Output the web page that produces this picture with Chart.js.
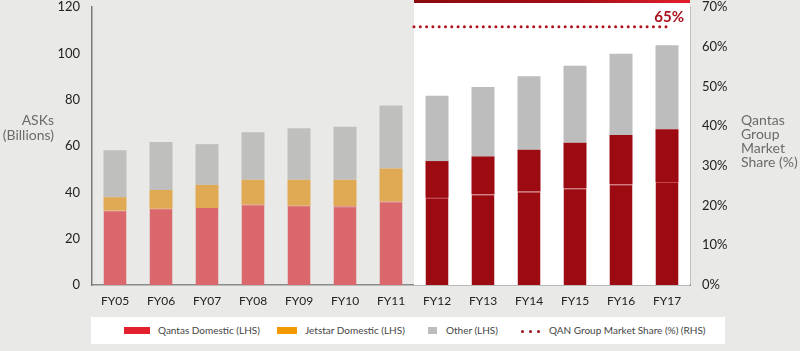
<!DOCTYPE html>
<html>
<head>
<meta charset="utf-8">
<script src="https://cdn.jsdelivr.net/npm/chart.js@4"></script>
<style>
  html, body { margin: 0; padding: 0; background: #e9e9e7; }
  #wrap { position: relative; width: 800px; height: 351px; font-family: 'Lato', sans-serif; }
  #wrap canvas { position: absolute; left: 0; top: 0; }
  .ytitle { position: absolute; font-size: 14px; line-height: 14.5px; color: #6b6b6b; }
  #ytitleL { right: 746px; top: 113px; text-align: right; }
  #ytitleR { left: 741px; top: 113px; text-align: left; line-height: 14px; }
  #legend { position: absolute; left: 91px; top: 317px; width: 634px; height: 27px; background: #fff; }
  .sw { position: absolute; top: 10px; height: 7px; }
  .lt { position: absolute; top: 7px; font-size: 10px; line-height: 13px; color: #444; white-space: nowrap; }
  .dot { position: absolute; top: 13px; width: 3px; height: 3px; border-radius: 50%; background: #a50f18; }
</style>
</head>
<body>
<div id="wrap">
  <canvas id="chart" width="800" height="351"></canvas>
  <div class="ytitle" id="ytitleL">ASKs<br>(Billions)</div>
  <div class="ytitle" id="ytitleR">Qantas<br>Group<br>Market<br>Share (%)</div>
  <div id="legend">
    <div class="sw" style="left:33px;width:26px;background:#e3202d"></div>
    <div class="lt" style="left:67px">Qantas Domestic (LHS)</div>
    <div class="sw" style="left:186px;width:20px;background:#f39a00"></div>
    <div class="lt" style="left:214px">Jetstar Domestic (LHS)</div>
    <div class="sw" style="left:337px;width:9px;background:#bdbdbd"></div>
    <div class="lt" style="left:355px">Other (LHS)</div>
    <div class="dot" style="left:430px"></div>
    <div class="dot" style="left:438px"></div>
    <div class="dot" style="left:446px"></div>
    <div class="lt" style="left:458px">QAN Group Market Share (%) (RHS)</div>
  </div>
</div>
<script>
/* ---- Daten ---- */
const LABELS  = ['FY05', 'FY06', 'FY07', 'FY08', 'FY09', 'FY10', 'FY11', 'FY12', 'FY13', 'FY14', 'FY15', 'FY16', 'FY17'];
const QANTAS  = [32.1, 32.9, 33.2, 34.7, 34.2, 34.0, 36.0, 37.6, 39.2, 40.4, 41.8, 43.5, 44.5];
const JETSTAR = [5.8, 8.1, 10.0, 10.7, 11.2, 11.4, 14.3, 15.9, 16.3, 18.0, 19.6, 21.2, 22.7];
const OTHER   = [20.3, 20.7, 17.6, 20.5, 22.3, 22.9, 27.2, 28.2, 30.0, 31.7, 33.2, 35.1, 36.3];
const SHARE   = [null, null, null, null, null, null, null, 65, 65, 65, 65, 65, 65];
const SHARE_LABEL = '65%';
const LEFT_TICKS  = { min: 0, max: 120, step: 20 };
const RIGHT_TICKS = { min: 0, max: 70, step: 10 };
const HIGHLIGHT_FROM = 'FY12';

const hi = LABELS.indexOf(HIGHLIGHT_FROM);
const DARK = '#9c0a12';
const pick = (a, b) => LABELS.map((_, i) => i < hi ? a : b);

// Marktanteil-Linie beginnt an der Grenze FY11/FY12 (halbe Kategorie vor FY12)
const sharePoints = [{ x: hi - 0.5, y: SHARE[hi] }].concat(
  SHARE.map((v, i) => ({ x: i, y: v })).filter(p => p.y !== null)
);

/* ---- Hintergrund: weisser Bereich + roter Balken oben ---- */
const bgPlugin = {
  id: 'bg',
  beforeDatasetsDraw(chart) {
    const { ctx, chartArea, scales } = chart;
    const x = scales.x;
    const x0 = (x.getPixelForValue(hi) + x.getPixelForValue(hi - 1)) / 2;
    ctx.save();
    ctx.fillStyle = '#ffffff';
    ctx.fillRect(x0, 3, chartArea.right - x0, chartArea.bottom - 3);
    const g = ctx.createLinearGradient(x0, 0, chartArea.right, 0);
    g.addColorStop(0, '#8a0a10');
    g.addColorStop(0.6, '#a50d16');
    g.addColorStop(1, '#e3202d');
    ctx.fillStyle = g;
    ctx.fillRect(x0, 0, chartArea.right - x0, 3);
    ctx.restore();
  },
  afterDatasetsDraw(chart) {
    const meta = chart.getDatasetMeta(3);
    const last = meta.data[meta.data.length - 1];
    if (!last) return;
    const { ctx } = chart;
    ctx.save();
    ctx.font = "bold 15px 'Lato', sans-serif";
    ctx.fillStyle = '#a8111b';
    ctx.textAlign = 'right';
    ctx.textBaseline = 'middle';
    ctx.fillText(SHARE_LABEL, last.x + 17, last.y - 10);
    ctx.restore();
  }
};

Chart.defaults.font.family = "'Lato', sans-serif";

const barBase = { xAxisID: 'x', yAxisID: 'y', grouped: false, barPercentage: 0.5, categoryPercentage: 1.0, order: 1 };

new Chart(document.getElementById('chart'), {
  type: 'bar',
  data: {
    labels: LABELS,
    datasets: [
      Object.assign({
        label: 'Qantas Domestic (LHS)',
        data: QANTAS,
        backgroundColor: pick('#d9676b', DARK),
        borderColor: pick('#d9676b', '#c2474d'),
        borderWidth: { top: 1, left: 0, right: 0, bottom: 0 },
        borderSkipped: false
      }, barBase),
      Object.assign({
        label: 'Jetstar Domestic (LHS)',
        data: JETSTAR,
        backgroundColor: pick('#e0aa55', DARK),
        borderWidth: 0
      }, barBase),
      Object.assign({
        label: 'Other (LHS)',
        data: OTHER,
        backgroundColor: pick('#bfbfbe', '#bdbdbe'),
        borderWidth: 0
      }, barBase),
      {
        type: 'line',
        label: 'QAN Group Market Share (%) (RHS)',
        data: sharePoints,
        xAxisID: 'xs',
        yAxisID: 'y1',
        borderColor: '#b0101c',
        borderWidth: 3,
        borderDash: [0, 6.3],
        borderCapStyle: 'round',
        pointRadius: 0,
        fill: false,
        order: 0
      }
    ]
  },
  options: {
    responsive: false,
    animation: false,
    layout: { padding: { top: 7, left: 0, right: 0, bottom: 0 } },
    plugins: { legend: { display: false }, tooltip: { enabled: false } },
    scales: {
      x: {
        type: 'category',
        stacked: true,
        offset: true,
        grid: { display: false, drawTicks: false },
        border: { display: true, color: '#8a8a8a', width: 1.5 },
        ticks: { color: '#222', font: { size: 12 }, padding: 9, maxRotation: 0 },
        afterFit: (s) => { s.height = 66; }
      },
      xs: {
        type: 'linear',
        display: false,
        offset: false,
        grid: { offset: false },
        min: -0.5, max: LABELS.length - 0.5
      },
      y: {
        stacked: true,
        position: 'left',
        min: LEFT_TICKS.min, max: LEFT_TICKS.max,
        grid: { display: false, drawTicks: false },
        border: { display: true, color: '#7a7a7a', width: 1.5 },
        ticks: { stepSize: LEFT_TICKS.step, color: '#222', font: { size: 13 }, padding: 12 },
        afterFit: (s) => { s.width = 92; s.paddingTop = 0; s.paddingBottom = 0; }
      },
      y1: {
        position: 'right',
        min: RIGHT_TICKS.min, max: RIGHT_TICKS.max,
        grid: { display: false, drawOnChartArea: false, drawTicks: true, tickLength: 5, color: '#999' },
        border: { display: true, color: '#9a9a9a', width: 1.5 },
        ticks: { stepSize: RIGHT_TICKS.step, color: '#222', font: { size: 13 }, padding: 7,
                 callback: (v) => v + '%' },
        afterFit: (s) => { s.width = 110; s.paddingTop = 0; s.paddingBottom = 0; }
      }
    }
  },
  plugins: [bgPlugin]
});
</script>
</body>
</html>
